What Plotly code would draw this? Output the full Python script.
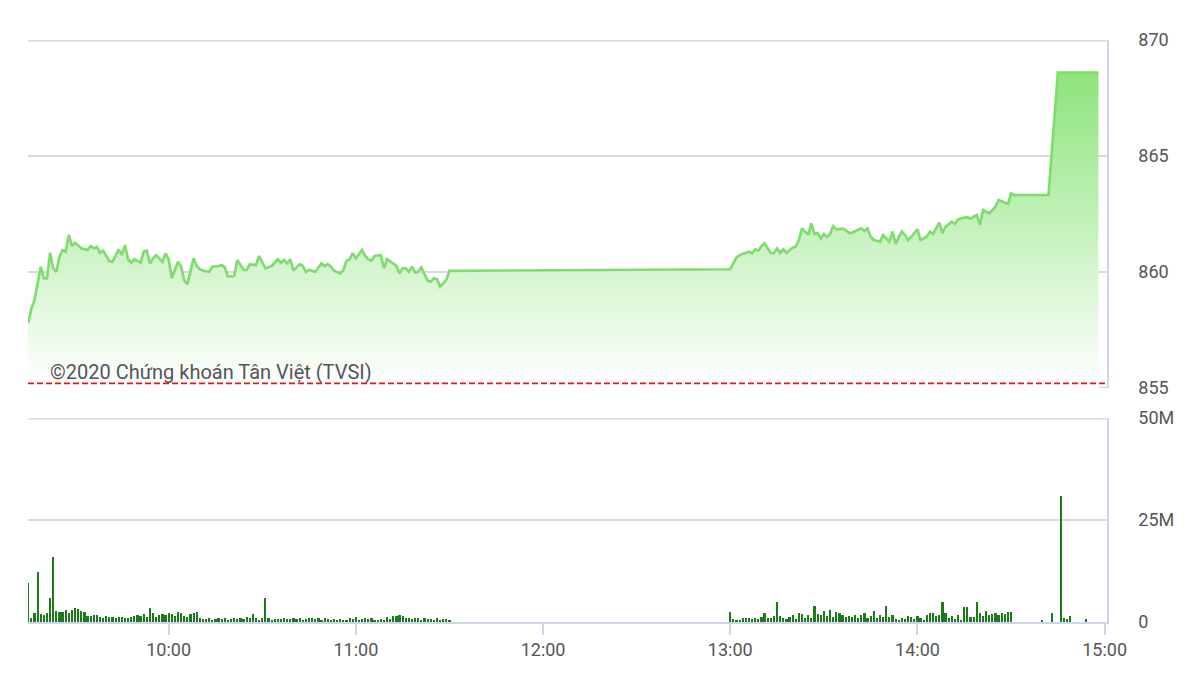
import pandas as pd
import plotly.graph_objects as go

DAY = "2020-01-01 "

# ---- Price (VN-Index intraday) ----
price_times = [
    "09:15", "09:16", "09:17", "09:19", "09:20", "09:21", "09:22", "09:23", "09:24", "09:25",
    "09:26", "09:27", "09:28", "09:29", "09:30", "09:32", "09:34", "09:35", "09:36", "09:37",
    "09:38", "09:39", "09:41", "09:42", "09:44", "09:45", "09:46", "09:47", "09:48", "09:49",
    "09:51", "09:52", "09:53", "09:54", "09:55", "09:56", "09:58", "09:59", "10:00", "10:01",
    "10:03", "10:04", "10:05", "10:06", "10:08", "10:09", "10:10", "10:11", "10:13", "10:14",
    "10:16", "10:17", "10:18", "10:19", "10:21", "10:22", "10:24", "10:25", "10:26", "10:28",
    "10:29", "10:31", "10:33", "10:35", "10:36", "10:37", "10:38", "10:39", "10:40", "10:42",
    "10:43", "10:44", "10:45", "10:47", "10:49", "10:50", "10:51", "10:52", "10:53", "10:54",
    "10:55", "10:56", "10:57", "10:58", "10:59", "11:00", "11:02", "11:03", "11:04", "11:05",
    "11:06", "11:08", "11:09", "11:10", "11:11", "11:13", "11:14", "11:15", "11:16", "11:17",
    "11:18", "11:19", "11:20", "11:21", "11:23", "11:24", "11:25", "11:26", "11:27", "11:29",
    "11:30",
    "13:00", "13:02", "13:03", "13:05", "13:06", "13:07", "13:08", "13:09", "13:10", "13:11",
    "13:12", "13:13", "13:14", "13:15", "13:16", "13:17", "13:18", "13:19", "13:20", "13:21",
    "13:22", "13:23", "13:24", "13:25", "13:26", "13:27", "13:28", "13:29", "13:30", "13:31",
    "13:32", "13:33", "13:34", "13:36", "13:37", "13:38", "13:39", "13:41", "13:42", "13:43",
    "13:44", "13:45", "13:46", "13:48", "13:49", "13:50", "13:51", "13:52", "13:53", "13:54",
    "13:55", "13:56", "13:57", "13:58", "14:00", "14:01", "14:03", "14:04", "14:05", "14:07",
    "14:08", "14:09", "14:11", "14:12", "14:13", "14:14", "14:16", "14:17", "14:19", "14:20",
    "14:21", "14:23", "14:24", "14:25", "14:26", "14:28", "14:29", "14:30", "14:31", "14:42",
    "14:45", "14:58",
]
price_values = [
    857.79, 858.43, 858.79, 860.23, 859.73, 859.73, 860.83, 860.16, 860.01, 860.66,
    860.95, 860.88, 861.60, 861.12, 861.26, 861.02, 860.95, 861.12, 861.02, 861.09,
    860.83, 860.92, 860.47, 860.44, 860.98, 860.73, 861.16, 860.55, 860.40, 860.55,
    860.40, 860.88, 860.92, 860.37, 860.59, 860.73, 860.44, 860.80, 860.55, 859.73,
    860.44, 860.23, 859.63, 859.48, 860.59, 860.26, 860.12, 860.06, 860.01, 860.23,
    860.26, 860.30, 860.20, 859.80, 859.83, 860.52, 860.09, 860.09, 860.34, 860.30,
    860.69, 860.16, 860.26, 860.55, 860.40, 860.52, 860.37, 860.55, 860.06, 860.34,
    860.26, 860.01, 860.09, 860.01, 860.37, 860.26, 860.34, 860.23, 860.06, 860.01,
    859.94, 860.09, 860.49, 860.55, 860.81, 860.59, 860.95, 860.69, 860.55, 860.49,
    860.69, 860.73, 860.16, 860.55, 860.44, 860.26, 859.94, 860.16, 860.16, 860.01,
    860.23, 859.97, 860.01, 860.20, 859.63, 859.58, 859.73, 859.69, 859.37, 859.66,
    860.05,
    860.12, 860.63, 860.73, 860.83, 860.88, 860.81, 860.98, 860.92, 861.12, 861.24,
    861.02, 860.81, 860.81, 861.02, 860.83, 860.98, 860.83, 860.95, 861.05, 861.09,
    861.38, 861.88, 861.74, 861.60, 862.10, 861.64, 861.69, 861.45, 861.64, 861.52,
    861.64, 861.98, 861.84, 861.87, 861.81, 861.69, 861.69, 861.81, 861.88, 861.78,
    861.88, 861.52, 861.38, 861.31, 861.59, 861.45, 861.31, 861.74, 861.21, 861.50,
    861.74, 861.59, 861.38, 861.52, 861.84, 861.38, 861.52, 861.74, 861.64, 862.13,
    861.69, 861.95, 862.17, 862.07, 862.27, 862.31, 862.36, 862.31, 862.46, 862.03,
    862.67, 862.53, 862.67, 862.82, 863.10, 862.99, 862.93, 863.39, 863.32, 863.32,
    868.59, 868.59,
]
reference_price = 855.2

# ---- Volume (millions), one bar per minute ----
vol_morning_start = "09:15"
vol_morning = [
    9.5, 1.1, 2.1, 12.3, 1.9, 1.7, 2.1, 5.8, 16.0, 2.7,
    2.4, 2.5, 2.9, 2.1, 2.9, 3.5, 3.1, 2.7, 2.4, 1.4,
    1.4, 1.6, 1.6, 1.2, 1.0, 1.4, 1.2, 1.3, 1.1, 1.2,
    1.3, 1.1, 1.0, 1.3, 1.5, 1.7, 1.4, 1.9, 1.2, 3.4,
    2.3, 1.3, 1.8, 2.0, 1.6, 2.2, 2.0, 1.4, 2.4, 2.1,
    1.5, 1.2, 1.9, 2.3, 2.5, 1.0, 0.8, 0.7, 0.9, 0.6,
    0.8, 1.0, 0.7, 0.9, 0.6, 0.8, 1.0, 0.7, 1.1, 0.8,
    1.2, 0.9, 1.9, 1.1, 0.6, 1.0, 5.8, 1.0, 0.5, 0.8,
    0.7, 0.8, 0.9, 0.8, 0.7, 0.9, 0.8, 1.0, 0.6, 0.8,
    0.9, 1.1, 0.7, 0.9, 0.6, 1.0, 0.8, 0.5, 0.7, 0.4,
    0.8, 0.6, 0.5, 0.9, 0.7, 1.2, 0.5, 0.8, 0.9, 0.7,
    1.1, 0.4, 0.3, 0.8, 0.6, 1.3, 0.7, 1.5, 1.4, 1.6,
    1.5, 1.0, 1.1, 0.8, 0.9, 1.0, 0.6, 0.9, 0.7, 0.8,
    0.5, 0.9, 0.6, 0.7, 0.8, 0.6,
]
vol_afternoon_start = "13:00"
vol_afternoon = [
    2.5, 0.8, 0.6, 0.5, 0.9, 1.1, 1.0, 0.8, 1.0, 0.7,
    1.3, 2.2, 0.9, 1.1, 1.5, 4.8, 1.4, 1.0, 0.7, 1.2,
    1.8, 0.8, 2.3, 1.9, 1.1, 1.6, 0.9, 3.9, 2.0, 1.7,
    2.7, 1.4, 3.0, 1.2, 2.4, 2.2, 1.8, 1.2, 1.5, 1.3,
    1.6, 1.1, 1.7, 2.1, 0.9, 1.4, 2.6, 1.0, 1.8, 1.2,
    3.9, 1.3, 1.6, 0.8, 0.6, 1.0, 0.8, 1.4, 1.2, 0.7,
    1.5, 1.0, 0.5, 1.7, 2.2, 2.1, 1.4, 1.8, 4.8, 2.3,
    1.0, 1.4, 0.8, 1.7, 0.6, 3.7, 3.6, 1.2, 1.2, 4.8,
    2.1, 1.5, 2.6, 1.6, 1.9, 2.3, 1.8, 2.2, 1.9, 2.4,
    2.5,
]
vol_close_times = ["14:40", "14:43", "14:46", "14:47", "14:48", "14:49", "14:54"]
vol_close = [0.3, 2.1, 31.0, 0.9, 0.7, 1.5, 0.7]

watermark = "©2020 Chứng khoán Tân Việt (TVSI)"

# ---- Build time axes ----
px_x = pd.to_datetime([DAY + t for t in price_times])
vol_x = (
    list(pd.date_range(DAY + vol_morning_start, periods=len(vol_morning), freq="min"))
    + list(pd.date_range(DAY + vol_afternoon_start, periods=len(vol_afternoon), freq="min"))
    + list(pd.to_datetime([DAY + t for t in vol_close_times]))
)
vol_y = vol_morning + vol_afternoon + vol_close

FONT = "Roboto"
TXT = "#555555"
GRID = "#dadada"
AXL = "#ccd6eb"

fig = go.Figure()
fig.add_trace(go.Scatter(
    x=px_x, y=price_values, mode="lines",
    line=dict(color="#80dc70", width=2.7),
    fill="tozeroy",
    fillgradient=dict(type="vertical",
                      colorscale=[[0, "rgba(255,255,255,1)"], [1, "rgb(141,228,124)"]],
                      start=855, stop=868.6),
    xaxis="x", yaxis="y", hoverinfo="x+y",
))
fig.add_trace(go.Bar(
    x=vol_x, y=vol_y, width=42000,
    marker=dict(color="#1c7a1c", line=dict(width=0)),
    xaxis="x2", yaxis="y2",
))

xrange = [DAY + "09:14:55", DAY + "15:00:45"]

edge_lines = [
    dict(type="line", xref="x domain", yref="y", x0=0, x1=1, y0=869.97, y1=869.97,
         layer="below", line=dict(color=GRID, width=1.5)),
    dict(type="line", xref="x domain", yref="y", x0=0, x1=1, y0=855.03, y1=855.03,
         layer="below", line=dict(color=GRID, width=1.5)),
    dict(type="line", xref="x2 domain", yref="y2", x0=0, x1=1, y0=49.8, y1=49.8,
         layer="below", line=dict(color=GRID, width=1.5)),
]

fig.update_layout(
    width=1200, height=675,
    margin=dict(l=20, r=101, t=32, b=61),
    paper_bgcolor="white", plot_bgcolor="white",
    showlegend=False, bargap=0,
    font=dict(family=FONT, size=18, color=TXT),
    xaxis=dict(domain=[0, 1], anchor="y", type="date", range=xrange,
               showticklabels=False, showgrid=False, showline=False, zeroline=False,
               matches="x2"),
    yaxis=dict(domain=[0.402, 1], anchor="x", side="right", range=[855, 870],
               tickvals=[855, 860, 865, 870], showgrid=True, gridcolor=GRID, gridwidth=1.5,
               showline=True, linecolor=AXL, linewidth=1.5, zeroline=False,
               ticks="", ticklabelstandoff=26),
    xaxis2=dict(domain=[0, 1], anchor="y2", type="date", range=xrange,
                tick0=DAY + "10:00", dtick=3600000, tickformat="%H:%M",
                ticks="outside", ticklen=11, tickcolor=AXL, tickwidth=1.5,
                showline=True, linecolor=AXL, linewidth=1.5, showgrid=False, zeroline=False),
    yaxis2=dict(domain=[0, 0.3505], anchor="x2", side="right", range=[0, 50],
                tickvals=[0, 25, 50], ticktext=["0", "25M", "50M"],
                showgrid=True, gridcolor=GRID, gridwidth=1.5,
                showline=True, linecolor=AXL, linewidth=1.5, zeroline=False,
                ticks="", ticklabelstandoff=26),
    shapes=edge_lines + [dict(type="line", xref="x domain", yref="y", x0=0, x1=1,
                              y0=reference_price, y1=reference_price,
                              line=dict(color="#e8141c", width=1.8, dash="6px,3px"))],
    annotations=[dict(text=watermark, xref="paper", yref="y", x=0.0185, y=855.68,
                      xanchor="left", yanchor="middle", showarrow=False,
                      font=dict(family=FONT, size=20, color=TXT))],
)

fig.write_html("out.html")
